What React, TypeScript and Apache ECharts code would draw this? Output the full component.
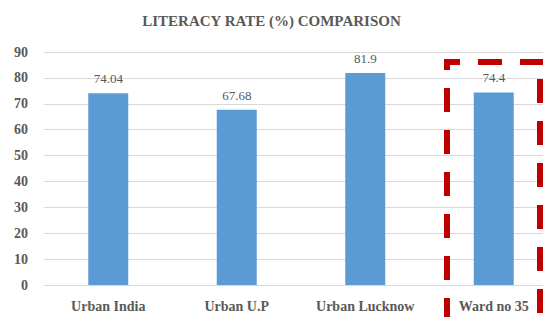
import React, { useEffect, useRef } from "react";
import * as echarts from "echarts";

const categories = ["Urban India", "Urban U.P", "Urban Lucknow", "Ward no 35"];
const literacyRates = [74.04, 67.68, 81.9, 74.4];
const yTicks = { min: 0, max: 90, interval: 10 };
const titleText = "LITERACY RATE (%) COMPARISON";

const FONT = "serif";
const RED = "#C00000";

export default function App() {
  const ref = useRef<HTMLDivElement>(null);
  useEffect(() => {
    if (!ref.current) return;
    const chart = echarts.init(ref.current, undefined, { renderer: "svg" });
    chart.setOption({
      animation: false,
      backgroundColor: "#ffffff",
      textStyle: { fontFamily: FONT },
      title: {
        text: titleText,
        left: "center",
        top: 8,
        textStyle: { fontFamily: FONT, fontSize: 15, fontWeight: "bold", color: "#595959" },
      },
      grid: { left: 44, width: 514, top: 52, bottom: 32, containLabel: false, outerBoundsMode: "none" },
      xAxis: {
        type: "category",
        data: categories,
        axisLine: { show: true, lineStyle: { color: "#D9D9D9", width: 1 } },
        axisTick: { show: false },
        axisLabel: {
          interval: 0,
          margin: 14,
          fontFamily: FONT,
          fontSize: 14,
          fontWeight: "bold",
          color: "#595959",
        },
      },
      yAxis: {
        type: "value",
        min: yTicks.min,
        max: yTicks.max,
        interval: yTicks.interval,
        axisLine: { show: false },
        axisTick: { show: false },
        splitLine: { lineStyle: { color: "#D9D9D9", width: 1 } },
        axisLabel: {
          margin: 16,
          fontFamily: FONT,
          fontSize: 14,
          fontWeight: "bold",
          color: "#595959",
        },
      },
      series: [
        {
          type: "bar",
          data: literacyRates,
          barWidth: 40,
          itemStyle: { color: "#5B9BD5" },
          label: {
            show: true,
            position: "top",
            distance: 8,
            fontFamily: FONT,
            fontSize: 13,
            color: "#595959",
          },
        },
      ],
      graphic: [
        {
          type: "line",
          shape: { x1: 444, y1: 62, x2: 546, y2: 62 },
          style: { stroke: RED, lineWidth: 6, lineDash: [24, 18], lineDashOffset: 8 },
          z: 100,
        },
        {
          type: "line",
          shape: { x1: 447, y1: 59, x2: 447, y2: 330 },
          style: { stroke: RED, lineWidth: 6, lineDash: [24, 18], lineDashOffset: 13 },
          z: 100,
        },
        {
          type: "line",
          shape: { x1: 540, y1: 59, x2: 540, y2: 330 },
          style: { stroke: RED, lineWidth: 6, lineDash: [24, 18], lineDashOffset: 22 },
          z: 100,
        },
      ],
    });
    return () => chart.dispose();
  }, []);
  return <div ref={ref} style={{ width: 543, height: 317, position: "fixed", left: 0, top: 0 }} />;
}
